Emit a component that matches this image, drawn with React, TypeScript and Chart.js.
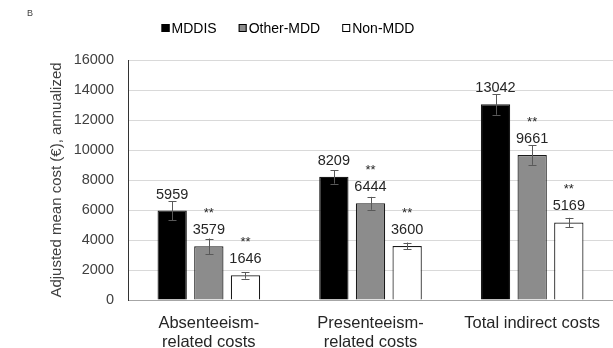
import { useEffect, useRef } from "react";
import { Chart, registerables } from "chart.js";

Chart.register(...registerables);

const FONT = '"Liberation Sans", Arial, sans-serif';

const categories: (string | string[])[] = [
  ["Absenteeism-", "related costs"],
  ["Presenteeism-", "related costs"],
  "Total indirect costs",
];
const seriesNames = ["MDDIS", "Other-MDD", "Non-MDD"];
const mddisValues = [5959, 8209, 13042];
const otherMddValues = [3579, 6444, 9661];
const nonMddValues = [1646, 3600, 5169];
const mddisErrors = [630, 450, 690];
const otherMddErrors = [520, 430, 650];
const nonMddErrors = [220, 230, 310];
const significanceMarks = ["", "**", "**"];
const yMax = 16000;
const yStep = 2000;
const yTitle = "Adjusted mean cost (€), annualized";
const panelLabel = "B";

const fills = ["#000000", "#8c8c8c", "#ffffff"];

const overlayPlugin = {
  id: "overlay",
  afterDatasetsDraw(chart: any) {
    const ctx = chart.ctx;
    const yScale = chart.scales.y;
    chart.data.datasets.forEach((ds: any, di: number) => {
      const meta = chart.getDatasetMeta(di);
      meta.data.forEach((bar: any, i: number) => {
        const v = ds.data[i];
        const e = ds.errors[i];
        const top = yScale.getPixelForValue(v + e);
        const bot = yScale.getPixelForValue(v - e);
        const x = Math.round(bar.x) + 0.5;
        ctx.save();
        ctx.strokeStyle = "#595959";
        ctx.lineWidth = 1;
        ctx.beginPath();
        ctx.moveTo(x, top);
        ctx.lineTo(x, bot);
        ctx.moveTo(x - 4, Math.round(top) + 0.5);
        ctx.lineTo(x + 4, Math.round(top) + 0.5);
        ctx.moveTo(x - 4, Math.round(bot) + 0.5);
        ctx.lineTo(x + 4, Math.round(bot) + 0.5);
        ctx.stroke();
        ctx.fillStyle = "#262626";
        ctx.textAlign = "center";
        ctx.textBaseline = "alphabetic";
        ctx.font = `14.5px ${FONT}`;
        ctx.fillText(String(v), bar.x, bar.y - 12);
        if (ds.mark) {
          ctx.font = `13px ${FONT}`;
          ctx.fillText(ds.mark, bar.x, bar.y - 29.5);
        }
        ctx.restore();
      });
    });
  },
  afterDraw(chart: any) {
    const ctx = chart.ctx;
    ctx.save();
    ctx.fillStyle = "#404040";
    ctx.font = `9px ${FONT}`;
    ctx.textAlign = "left";
    ctx.textBaseline = "middle";
    ctx.fillText(panelLabel, 27, 14);
    ctx.font = `14px ${FONT}`;
    const box = 8;
    const gapText = 2;
    const gapItem = 22;
    const widths = seriesNames.map((n) => ctx.measureText(n).width);
    const total =
      widths.reduce((a: number, w: number) => a + w + box + gapText, 0) +
      gapItem * (seriesNames.length - 1);
    let x = 288 - total / 2;
    const cy = 28;
    seriesNames.forEach((n, i) => {
      ctx.fillStyle = fills[i];
      ctx.fillRect(x, cy - box / 2, box, box);
      ctx.strokeStyle = "#000000";
      ctx.lineWidth = 1;
      ctx.strokeRect(x + 0.5, cy - box / 2 + 0.5, box - 1, box - 1);
      ctx.fillStyle = "#000000";
      ctx.textAlign = "left";
      ctx.textBaseline = "middle";
      ctx.fillText(n, x + box + gapText, cy + 1);
      x += box + gapText + widths[i] + gapItem;
    });
    ctx.restore();
  },
};

export default function App() {
  const ref = useRef<HTMLCanvasElement | null>(null);
  useEffect(() => {
    if (!ref.current) return;
    const common = {
      borderColor: "#1a1a1a",
      borderWidth: 1.2,
      categoryPercentage: 0.68,
      barPercentage: 0.8,
    };
    const chart = new Chart(ref.current, {
      type: "bar",
      data: {
        labels: categories,
        datasets: [
          { label: seriesNames[0], data: mddisValues, backgroundColor: fills[0], errors: mddisErrors, mark: significanceMarks[0], ...common } as any,
          { label: seriesNames[1], data: otherMddValues, backgroundColor: fills[1], errors: otherMddErrors, mark: significanceMarks[1], ...common } as any,
          { label: seriesNames[2], data: nonMddValues, backgroundColor: fills[2], errors: nonMddErrors, mark: significanceMarks[2], ...common } as any,
        ],
      },
      options: {
        responsive: false,
        animation: false,
        layout: { padding: { top: 60, left: 0, right: 0, bottom: 0 } },
        plugins: {
          legend: { display: false },
          tooltip: { enabled: false },
        },
        scales: {
          x: {
            grid: { display: false },
            border: { display: true, color: "#a6a6a6", width: 1 },
            ticks: {
              color: "#262626",
              font: { family: FONT, size: 16.5, lineHeight: 1.15 },
              padding: 5.5,
              maxRotation: 0,
              autoSkip: false,
            },
            afterFit(scale: any) {
              scale.height = 48;
              scale.paddingLeft = 0;
              scale.paddingRight = 0;
            },
          },
          y: {
            min: 0,
            max: yMax,
            grid: { color: "#d9d9d9", drawTicks: false },
            border: { display: true, color: "#333333", width: 1 },
            ticks: {
              stepSize: yStep,
              color: "#404040",
              padding: 14,
              font: { family: FONT, size: 14.5 },
              callback: (v: any) => String(v),
            },
            title: {
              display: true,
              text: yTitle,
              color: "#404040",
              font: { family: FONT, size: 15, lineHeight: 1.2 },
              padding: { top: 48, bottom: 0 },
            },
            afterFit(scale: any) {
              scale.width = 128;
              scale.paddingTop = 0;
              scale.paddingBottom = 0;
            },
          },
        },
      } as any,
      plugins: [overlayPlugin],
    });
    return () => chart.destroy();
  }, []);
  return (
    <div style={{ position: "absolute", left: 0, top: 0, width: 613, height: 348, background: "#fff" }}>
      <canvas ref={ref} width={613} height={348} style={{ display: "block" }} />
    </div>
  );
}
